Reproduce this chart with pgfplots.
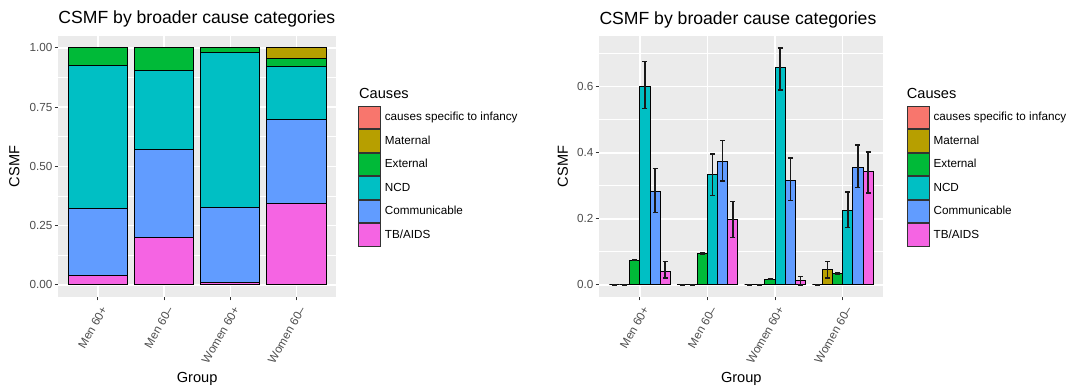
\documentclass[border=0pt]{standalone}
\usepackage{fontspec}
\setmainfont{Liberation Sans}
\usepackage{pgfplots}
\usepackage{pgfplotstable}
\pgfplotsset{compat=1.18}
\definecolor{cInf}{HTML}{F8766D}
\definecolor{cMat}{HTML}{B79F00}
\definecolor{cExt}{HTML}{00BA38}
\definecolor{cNCD}{HTML}{00BFC4}
\definecolor{cCom}{HTML}{619CFF}
\definecolor{cTB}{HTML}{F564E3}
\definecolor{gbg}{HTML}{EBEBEB}
\definecolor{gray30}{HTML}{4D4D4D}
\definecolor{gray20}{HTML}{333333}

% stacked (left) data: group TB Com NCD Ext Mat Inf
\pgfplotstableread{
g TB Com NCD Ext Mat Inf
1 0.041 0.283 0.600 0.076 0.000 0
2 0.198 0.374 0.331 0.097 0.000 0
3 0.012 0.314 0.656 0.018 0.000 0
4 0.343 0.355 0.222 0.035 0.045 0
}\stacked

% dodged (right) data: x y ep em
\pgfplotstableread{
x y ep em
0.625 0 0 0
1.625 0 0 0
2.625 0 0 0
3.625 0 0 0
}\dInf
\pgfplotstableread{
x y ep em
0.775 0 0 0
1.775 0 0 0
2.775 0 0 0
3.775 0.045 0.026 0.025
}\dMat
\pgfplotstableread{
x y ep em
0.925 0.075 0.002 0.002
1.925 0.096 0.002 0.002
2.925 0.017 0.002 0.001
3.925 0.034 0.002 0.002
}\dExt
\pgfplotstableread{
x y ep em
1.075 0.600 0.076 0.066
2.075 0.333 0.063 0.063
3.075 0.657 0.061 0.067
4.075 0.224 0.057 0.050
}\dNCD
\pgfplotstableread{
x y ep em
1.225 0.284 0.069 0.065
2.225 0.374 0.064 0.059
3.225 0.316 0.069 0.061
4.225 0.355 0.069 0.060
}\dCom
\pgfplotstableread{
x y ep em
1.375 0.041 0.030 0.021
2.375 0.199 0.053 0.055
3.375 0.012 0.014 0.012
4.375 0.344 0.059 0.065
}\dTB

\pgfplotsset{
  gg/.style={
    scale only axis,
    clip mode=individual,
    width=#1, height=260.7pt,
    axis background/.style={fill=gbg},
    axis line style={draw=none},
    tick align=outside,
    major tick length=3.7pt,
    minor tick length=0pt,
    tick style={color=gray20, line width=1pt},
    xtick pos=left, ytick pos=left,
    grid=both,
    major grid style={white, line width=1.4pt},
    minor grid style={white, line width=0.7pt},
    ticklabel style={font=\fontsize{11.7}{13}\selectfont, text=gray30},
    label style={font=\fontsize{14.6}{16}\selectfont},
    xmin=0.4, xmax=4.6,
    xtick={1,2,3,4},
    xticklabels={Men 60+,Men 60–,Women 60+,Women 60–},
    xticklabel style={rotate=60, anchor=north east, inner sep=3pt, yshift=-1.5pt},
    yticklabel style={inner sep=2pt},
    xlabel={Group},
    ylabel={CSMF},
    legend cell align=left,
    legend style={draw=none, fill=none, inner sep=0pt, outer sep=0pt, row sep=0pt,
      font=\fontsize{11.7}{13}\selectfont,
      nodes={inner sep=0pt},
      /tikz/every odd column/.append style={column sep=3.7pt}},
  },
  keyimg/.style={legend image code/.code={\draw[##1, draw=black!80, line width=0.9pt] (0pt,-11.3pt) rectangle (22.3pt,11.3pt);}},
}

\begin{document}
\begin{tikzpicture}
\path[use as bounding box] (0,0) rectangle (1074pt,387pt);

% ---------- left: stacked ----------
\begin{axis}[
  gg=277.7pt,
  at={(58.3pt,90.3pt)}, anchor=south west,
  ybar stacked, bar width=0.9,
  keyimg,
  ymin=-0.05, ymax=1.05,
  ytick={0,0.25,0.5,0.75,1},
  yticklabels={0.00,0.25,0.50,0.75,1.00},
  minor ytick={0.125,0.375,0.625,0.875},
  xlabel style={at={(axis description cs:0.5,-0.3283)}, anchor=base},
  ylabel style={at={(axis description cs:-0.158,0.5)}, anchor=center},
  reverse legend,
  legend style={at={(1.0792,0.7326)}, anchor=north west},
]
\addplot[fill=cTB, draw=black, line width=1pt] table[x=g, y=TB] {\stacked};
\addlegendentry{TB/AIDS}
\addplot[fill=cCom, draw=black, line width=1pt] table[x=g, y=Com] {\stacked};
\addlegendentry{Communicable}
\addplot[fill=cNCD, draw=black, line width=1pt] table[x=g, y=NCD] {\stacked};
\addlegendentry{NCD}
\addplot[fill=cExt, draw=black, line width=1pt] table[x=g, y=Ext] {\stacked};
\addlegendentry{External}
\addplot[fill=cMat, draw=black, line width=1pt] table[x=g, y=Mat] {\stacked};
\addlegendentry{Maternal}
\addplot[fill=cInf, draw=black, line width=1pt] table[x=g, y=Inf] {\stacked};
\addlegendentry{causes specific to infancy}
\node[anchor=base west, inner sep=0pt, font=\fontsize{17.6}{19}\selectfont] at (axis description cs:0,1.046) {CSMF by broader cause categories};
\node[anchor=base west, inner sep=0pt, font=\fontsize{14.6}{16}\selectfont] at (axis description cs:1.0828,0.7584) {Causes};
\end{axis}

% ---------- right: dodged ----------
\begin{axis}[
  gg=284pt,
  at={(599.3pt,90.3pt)}, anchor=south west,
  ybar, bar width=0.15, bar shift=0pt,
  keyimg,
  ymin=-0.0359, ymax=0.7539,
  ytick={0,0.2,0.4,0.6},
  yticklabels={0.0,0.2,0.4,0.6},
  minor ytick={0.1,0.3,0.5,0.7},
  xlabel style={at={(axis description cs:0.5,-0.3283)}, anchor=base},
  ylabel style={at={(axis description cs:-0.128,0.5)}, anchor=center},
  legend style={at={(1.0824,0.7326)}, anchor=north west},
  error bars/y dir=both, error bars/y explicit,
  error bars/error bar style={line width=1.5pt, black!90},
  error bars/error mark options={rotate=90, mark size=2.5pt, line width=1.5pt, black!90},
]
\addplot[fill=cInf, draw=black, line width=1pt] table[x=x, y=y, y error plus=ep, y error minus=em] {\dInf};
\addlegendentry{causes specific to infancy}
\addplot[fill=cMat, draw=black, line width=1pt] table[x=x, y=y, y error plus=ep, y error minus=em] {\dMat};
\addlegendentry{Maternal}
\addplot[fill=cExt, draw=black, line width=1pt] table[x=x, y=y, y error plus=ep, y error minus=em] {\dExt};
\addlegendentry{External}
\addplot[fill=cNCD, draw=black, line width=1pt] table[x=x, y=y, y error plus=ep, y error minus=em] {\dNCD};
\addlegendentry{NCD}
\addplot[fill=cCom, draw=black, line width=1pt] table[x=x, y=y, y error plus=ep, y error minus=em] {\dCom};
\addlegendentry{Communicable}
\addplot[fill=cTB, draw=black, line width=1pt] table[x=x, y=y, y error plus=ep, y error minus=em] {\dTB};
\addlegendentry{TB/AIDS}
\node[anchor=base west, inner sep=0pt, font=\fontsize{17.6}{19}\selectfont] at (axis description cs:0,1.046) {CSMF by broader cause categories};
\node[anchor=base west, inner sep=0pt, font=\fontsize{14.6}{16}\selectfont] at (axis description cs:1.0824,0.7584) {Causes};
\end{axis}
\end{tikzpicture}
\end{document}
